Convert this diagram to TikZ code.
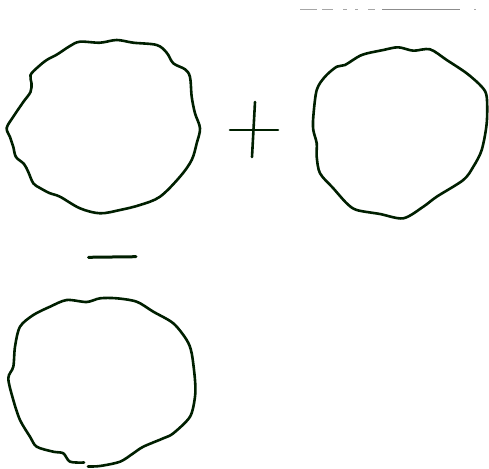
\documentclass[tikz,border=0pt]{standalone}
\begin{document}
\begin{tikzpicture}[x=1pt,y=-1pt,
  ink/.style={draw=black!88!green, line width=2.6pt, line cap=round, line join=round},
  faint/.style={draw=black!35, line width=1.2pt}]
\useasboundingbox (0,0) rectangle (489,468);
% top-left circle
\draw[ink] plot[smooth cycle, tension=0.55] coordinates {
 (70,46) (80,41.7) (100,42.7) (116.7,40) (133.3,42.7) (156.7,45) (166.7,52.7) (173.3,63.3)
 (185,69.3) (190,77) (191.7,96.7) (195,113.3) (200,128.3) (196.7,143.3) (191.7,160)
 (180,176.7) (160,196.7) (140,205) (120,210) (100,213.3) (80,208.3) (60,196.7)
 (50,193.3) (40,188) (33.3,183.3) (28.3,172) (24,164) (16,157) (13.3,147) (10,137)
 (6.7,128) (13.3,116.7) (23.3,102) (30.5,92) (31.5,83.3) (30.5,75) (38,67) (46.7,60) (57,54.5)};
% plus
\draw[ink] (230,130) -- (278,130);
\draw[ink] (255,102) -- (252,157);
% top-right circle
\draw[ink] plot[smooth cycle, tension=0.5] coordinates {
 (313.3,116.7) (316.7,90) (325,76.7) (336.7,66.7) (345,65) (361.7,55) (383.3,50)
 (398.3,47.3) (413.3,50.7) (430,49.3) (446.7,60) (466.7,73.3) (481.7,86.7)
 (486.7,96.7) (486.7,123.3) (481.7,150) (473.3,166.7) (463.3,180) (436.7,196.7)
 (423.3,206.7) (403.3,218.3) (380,214) (356.7,210) (346.7,203.3) (333.3,188.3)
 (320,173.3) (316.7,156.7) (316.7,143.3) (313.3,130)};
% minus
\draw[ink, line width=3pt] (88.5,257.3) -- (136,256.7);
% bottom circle (with small gap)
\draw[ink] plot[smooth, tension=0.5] coordinates {
 (88,466.5) (100,466) (120,461.7) (133.3,453.3) (143.3,446.7) (163.3,438.3)
 (173.3,433.3) (190,416.7) (195,396.7) (195,380) (191.7,353.3) (186.7,340)
 (173.3,323.3) (153.3,311.7) (136.7,301.7) (116.7,298.3) (100,298.3) (86.7,302)
 (66.7,300) (50,306.7) (33.3,315) (20,326.7) (15,346.7) (13.3,366.7) (8.3,378.3)
 (13.3,400) (20,420) (30,436.7) (36.7,446.7) (53.3,451.7) (63.3,453.3) (70,461.7)
 (84,462.5)};
% faint dashed line at top right
\draw[faint] (300,9.5) -- (317,9.5);
\draw[faint] (322,9.5) -- (333,9.5);
\draw[faint] (343,9.5) -- (347,9.5);
\draw[faint] (355,9.5) -- (358,9.5);
\draw[faint] (368,9.5) -- (375,9.5);
\draw[draw=black!45, line width=1.3pt] (382,9.5) -- (460,9.5);
\draw[faint] (474,9.5) -- (476,9.5);
\end{tikzpicture}
\end{document}
